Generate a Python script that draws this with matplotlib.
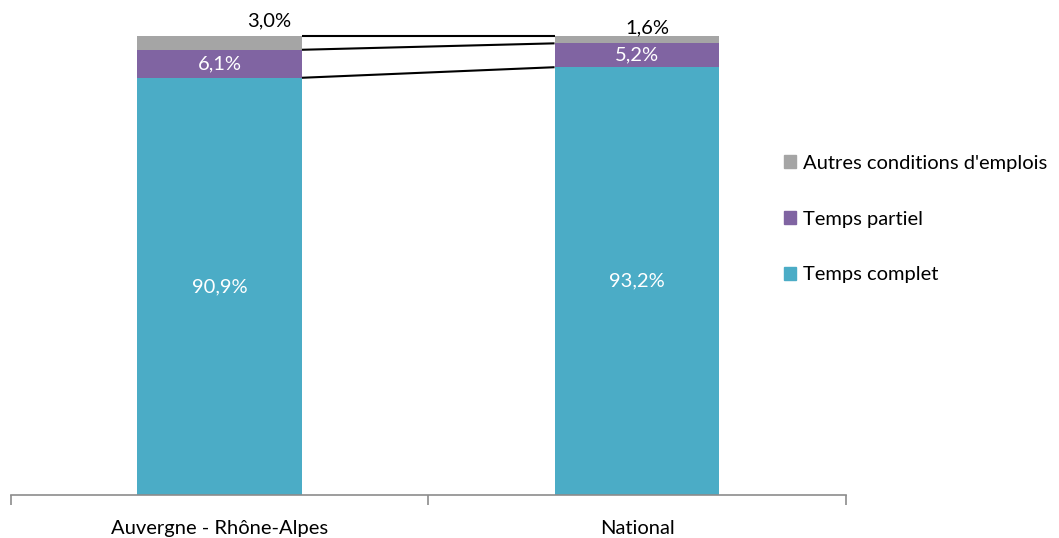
import matplotlib
matplotlib.use('Agg')
import matplotlib.pyplot as plt
from matplotlib.patches import Patch

categories = ['Auvergne - Rhône-Alpes', 'National']
complet = [90.9, 93.2]
partiel = [6.1, 5.2]
autres = [3.0, 1.6]
labels_complet = ['90,9%', '93,2%']
labels_partiel = ['6,1%', '5,2%']
labels_autres = ['3,0%', '1,6%']

c_blue = '#4BACC6'
c_purple = '#8064A2'
c_gray = '#A5A5A5'

plt.rcParams['font.family'] = ['Lato', 'DejaVu Sans']

W, H = 1059, 538
fig = plt.figure(figsize=(W / 100, H / 100), dpi=100)
ax = fig.add_axes([10.75 / W, (H - 495) / H, (845.75 - 10.75) / W, (495 - 36) / H])

x = [0, 1]
bw = 0.395
ax.bar(x, complet, bw, color=c_blue)
bot2 = [a for a in complet]
ax.bar(x, partiel, bw, bottom=bot2, color=c_purple)
bot3 = [a + b for a, b in zip(complet, partiel)]
ax.bar(x, autres, bw, bottom=bot3, color=c_gray)

# connector lines between bars
for lvl in [complet, bot3, [a + b + c for a, b, c in zip(complet, partiel, autres)]]:
    ax.plot([x[0] + bw / 2, x[1] - bw / 2], [lvl[0], lvl[1]], color='black', lw=1.5,
            clip_on=False, solid_capstyle='butt')

fs = 14.5
for i in x:
    ax.text(i, complet[i] / 2, labels_complet[i], color='white', ha='center', va='center', fontsize=fs)
    ax.text(i, complet[i] + partiel[i] / 2, labels_partiel[i], color='white', ha='center', va='center',
            fontsize=fs)
ax.text(0.118, 103.4, labels_autres[0], ha='center', va='center', fontsize=fs, clip_on=False)
ax.text(1.025, 101.7, labels_autres[1], ha='center', va='center', fontsize=fs, clip_on=False)

ax.set_xlim(-0.5, 1.5)
ax.set_ylim(0, 100)
ax.set_yticks([])
for s in ['top', 'right', 'left']:
    ax.spines[s].set_visible(False)
ax.spines['bottom'].set_color('#8c8c8c')
ax.spines['bottom'].set_linewidth(1.2)
ax.set_xticks([-0.5, 0.5, 1.5])
ax.set_xticklabels([])
ax.tick_params(axis='x', length=7, color='#8c8c8c', width=1.2)
ax.set_xticks(x, minor=True)
ax.set_xticklabels(categories, minor=True, fontsize=fs)
ax.tick_params(axis='x', which='minor', length=0, pad=18)

handles = [Patch(color=c_gray), Patch(color=c_purple), Patch(color=c_blue)]
names = ["Autres conditions d'emplois", 'Temps partiel', 'Temps complet']
fig.legend(handles, names, loc='center left', bbox_to_anchor=(766 / W, 1 - 219 / H), frameon=False,
           fontsize=fs, handlelength=0.6, handleheight=0.6, handletextpad=0.35, labelspacing=1.93)

fig.savefig('out.png', dpi=100)
